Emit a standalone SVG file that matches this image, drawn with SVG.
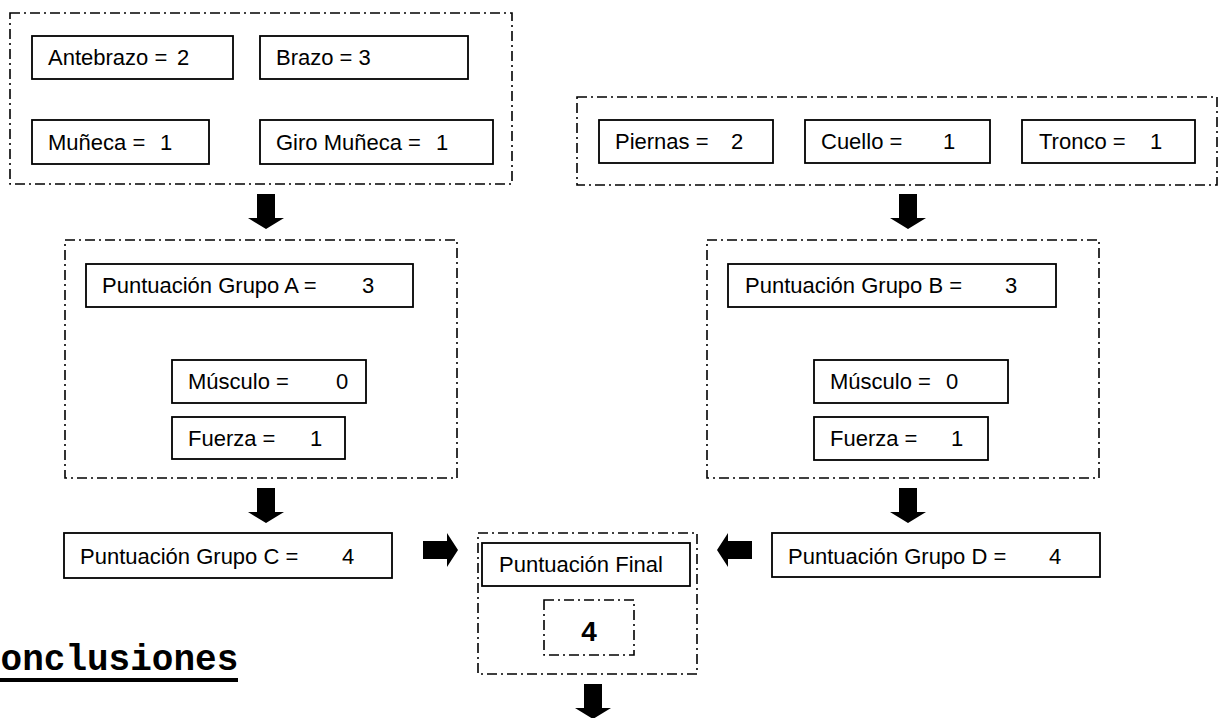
<svg xmlns="http://www.w3.org/2000/svg" width="1220" height="718" viewBox="0 0 1220 718">
  <style>
    .frame { fill: none; stroke: #000; stroke-width: 1.6; stroke-dasharray: 10 4 2 4; }
    .box { fill: #fff; stroke: #000; stroke-width: 1.8; }
    .lbl { font-family: "Liberation Sans", Arial, sans-serif; font-size: 22px; fill: #000; }
    .big { font-family: "Liberation Sans", Arial, sans-serif; font-size: 28px; font-weight: bold; fill: #000; }
    .head { font-family: "Liberation Mono", "Courier New", monospace; font-size: 36px; font-weight: bold; fill: #000; }
    .arrow { fill: #000; }
  </style>
  <defs>
    <!-- block arrow pointing down, origin at the tail centre -->
    <path id="arrowDown" d="M-9,0 H9 V24 H18 L0,35 L-18,24 H-9 Z"/>
  </defs>
  <rect width="1220" height="718" fill="#fff"/>

  <!-- top-left group: arm segments -->
  <g id="group-arm">
    <rect class="frame" x="10" y="13" width="502" height="171"/>
    <g id="antebrazo">
      <rect class="box" x="32" y="36" width="201" height="43"/>
      <text class="lbl" x="48" y="65">Antebrazo =<tspan x="177">2</tspan></text>
    </g>
    <g id="brazo">
      <rect class="box" x="260" y="36" width="208" height="43"/>
      <text class="lbl" x="276" y="65">Brazo = 3</text>
    </g>
    <g id="muneca">
      <rect class="box" x="32" y="120" width="177" height="44"/>
      <text class="lbl" x="48" y="150">Muñeca =<tspan x="160">1</tspan></text>
    </g>
    <g id="giro-muneca">
      <rect class="box" x="260" y="120" width="233" height="44"/>
      <text class="lbl" x="276" y="150">Giro Muñeca =<tspan x="436">1</tspan></text>
    </g>
  </g>

  <!-- top-right group: legs, neck, trunk -->
  <g id="group-body">
    <rect class="frame" x="577" y="97" width="640" height="88"/>
    <g id="piernas">
      <rect class="box" x="599" y="120" width="174" height="43"/>
      <text class="lbl" x="615" y="149">Piernas =<tspan x="731">2</tspan></text>
    </g>
    <g id="cuello">
      <rect class="box" x="805" y="120" width="185" height="43"/>
      <text class="lbl" x="821" y="149">Cuello =<tspan x="943">1</tspan></text>
    </g>
    <g id="tronco">
      <rect class="box" x="1022" y="120" width="173" height="43"/>
      <text class="lbl" x="1039" y="149">Tronco =<tspan x="1150">1</tspan></text>
    </g>
  </g>

  <!-- group A score -->
  <g id="group-a">
    <rect class="frame" x="65" y="240" width="392" height="238"/>
    <g id="puntuacion-a">
      <rect class="box" x="86" y="264" width="327" height="43"/>
      <text class="lbl" x="102" y="293">Puntuación Grupo A =<tspan x="362">3</tspan></text>
    </g>
    <g id="musculo-a">
      <rect class="box" x="172" y="360" width="194" height="43"/>
      <text class="lbl" x="188" y="389">Músculo =<tspan x="336">0</tspan></text>
    </g>
    <g id="fuerza-a">
      <rect class="box" x="172" y="417" width="173" height="42"/>
      <text class="lbl" x="188" y="446">Fuerza =<tspan x="310">1</tspan></text>
    </g>
  </g>

  <!-- group B score -->
  <g id="group-b">
    <rect class="frame" x="707" y="240" width="392" height="238"/>
    <g id="puntuacion-b">
      <rect class="box" x="728" y="264" width="328" height="43"/>
      <text class="lbl" x="745" y="293">Puntuación Grupo B =<tspan x="1005">3</tspan></text>
    </g>
    <g id="musculo-b">
      <rect class="box" x="814" y="360" width="194" height="43"/>
      <text class="lbl" x="830" y="389">Músculo =<tspan x="946">0</tspan></text>
    </g>
    <g id="fuerza-b">
      <rect class="box" x="814" y="417" width="174" height="43"/>
      <text class="lbl" x="830" y="446">Fuerza =<tspan x="951">1</tspan></text>
    </g>
  </g>

  <!-- group C and D scores -->
  <g id="group-c">
    <rect class="box" x="64" y="533" width="328" height="45"/>
    <text class="lbl" x="80" y="564">Puntuación Grupo C =<tspan x="342">4</tspan></text>
  </g>
  <g id="group-d">
    <rect class="box" x="772" y="533" width="328" height="44"/>
    <text class="lbl" x="788" y="564">Puntuación Grupo D =<tspan x="1049">4</tspan></text>
  </g>

  <!-- final score -->
  <g id="final">
    <rect class="frame" x="478" y="533" width="219" height="141"/>
    <rect class="box" x="482" y="543" width="208" height="43"/>
    <text class="lbl" x="499" y="572">Puntuación Final</text>
    <rect class="frame" x="544" y="600" width="90" height="55"/>
    <text class="big" x="589" y="641" text-anchor="middle">4</text>
  </g>

  <!-- section heading -->
  <g id="heading">
    <text class="head" x="-21" y="670">Conclusiones</text>
    <rect x="0" y="678" width="238" height="4" fill="#000"/>
  </g>

  <!-- flow arrows -->
  <g id="connectors" class="arrow">
    <use href="#arrowDown" x="266" y="194"/>
    <use href="#arrowDown" x="908" y="194"/>
    <use href="#arrowDown" x="266" y="488"/>
    <use href="#arrowDown" x="908" y="488"/>
    <use href="#arrowDown" x="593" y="684"/>
    <!-- C into final -->
    <path d="M423,541 H447 V533 L458,550 L447,567 V559 H423 Z"/>
    <!-- D into final -->
    <path d="M752,541 H728 V533 L717,550 L728,567 V559 H752 Z"/>
  </g>
</svg>
